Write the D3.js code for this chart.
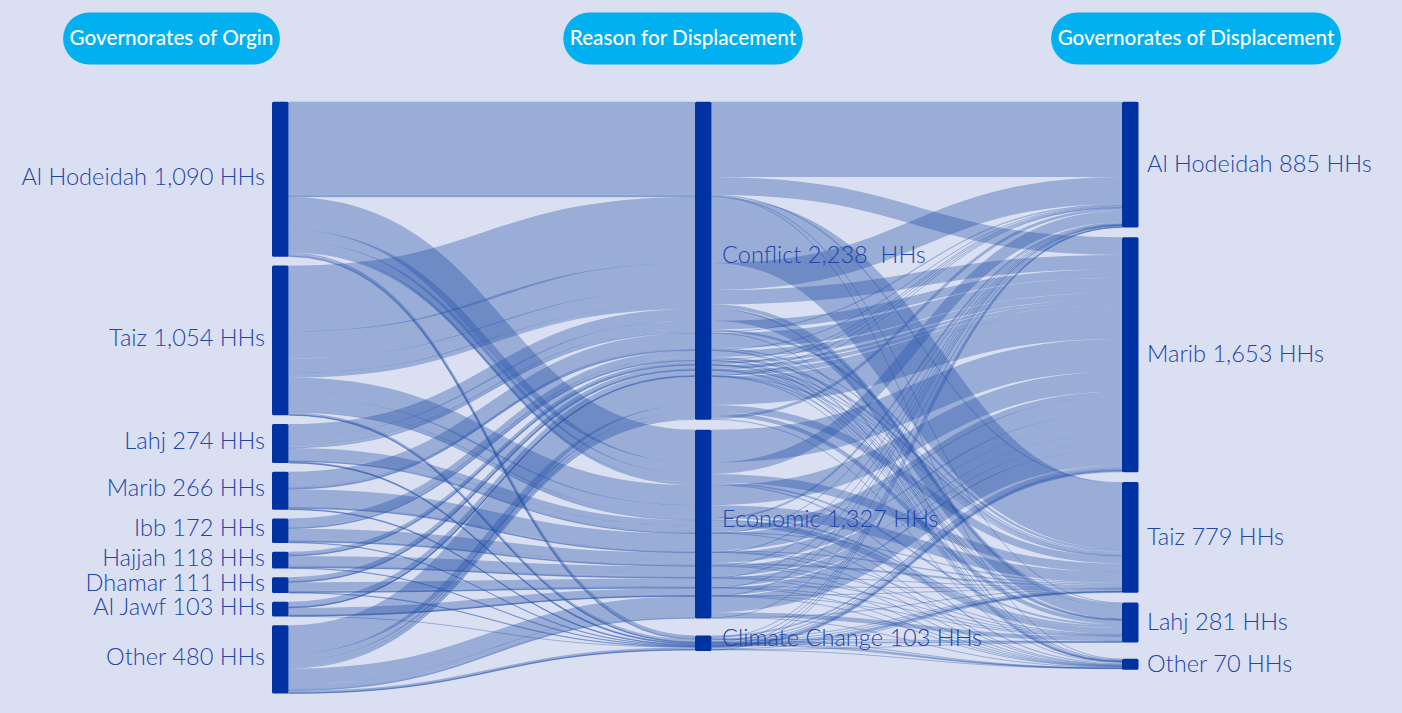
<!DOCTYPE html>
<html><head><meta charset="utf-8">
<script src="https://cdn.jsdelivr.net/npm/d3@7"></script>
<style>
html,body{margin:0;padding:0;background:#dae0f1;}
svg{display:block;}
</style></head><body>
<svg id="chart" width="1402" height="713"></svg>
<script>
// ---------------- DATA ----------------
const origins = ["Al Hodeidah","Taiz","Lahj","Marib","Ibb","Hajjah","Dhamar","Al Jawf","Other"];
const reasons = ["Conflict","Economic","Climate Change"];
const destinations = ["Al Hodeidah","Marib","Taiz","Lahj","Other"];
const headers = ["Governorates of Orgin","Reason for Displacement","Governorates of Displacement"];
const unitLabel = "HHs";
// households per origin (rows) -> destination (columns), one table per reason
const conflictFlows = [
  [530,125,8,4,3],
  [190,100,465,26,8],
  [8,60,15,82,4],
  [4,105,8,4,2],
  [6,45,16,3,2],
  [5,18,4,2,1],
  [3,25,5,2,2],
  [2,36,2,2,1],
  [20,200,50,28,7]
];
const economicFlows = [
  [80,230,60,12,8],
  [12,140,75,14,4],
  [2,40,8,42,3],
  [2,118,8,4,3],
  [3,72,14,4,2],
  [2,70,6,4,2],
  [1,58,5,4,2],
  [1,50,2,3,2],
  [4,111,3,31,6]
];
const climateFlows = [
  [6,12,6,3,3],
  [2,8,7,2,1],
  [0,4,2,3,1],
  [0,6,1,0,1],
  [0,3,2,0,0],
  [1,3,0,0,0],
  [0,3,1,0,0],
  [0,2,0,0,0],
  [1,9,6,2,2]
];
const reasonFlows = [conflictFlows, economicFlows, climateFlows];

// ---------------- LAYOUT ----------------
const svg = d3.select("#chart");
const W = 1402, H = 713;
const FONT = "Lato, 'Open Sans', sans-serif";
const TEXT_COLOR = "#2245a8";
const NODE_COLOR = "#0033a1";
const LINK_COLOR = "rgb(31,78,165)";
const PILL_COLOR = "#00b0f0";

svg.append("rect").attr("width", W).attr("height", H).attr("fill", "#dae0f1");

const paths = [];
reasonFlows.forEach((tbl, r) => tbl.forEach((row, o) => row.forEach((v, d) => {
  if (v > 0) paths.push({o, r, d, v});
})));

const originTotals = origins.map((_, o) => d3.sum(paths.filter(p => p.o === o), p => p.v));
const reasonTotals = reasons.map((_, r) => d3.sum(paths.filter(p => p.r === r), p => p.v));
const destTotals = destinations.map((_, d) => d3.sum(paths.filter(p => p.d === d), p => p.v));
const total = d3.sum(originTotals);

const yTop = 101.7, yBottom = 693.5, pad = 8.8;
const y = d3.scaleLinear().domain([0, total]).range([0, yBottom - yTop - (origins.length - 1) * pad]);
const colX = d3.scaleOrdinal().domain([0, 1, 2]).range([272, 695, 1122]);
const nodeW = 16.5;

function stack(col, names, totals, padding, lastExtra, minH) {
  let cur = yTop;
  return names.map((name, i) => {
    if (i === names.length - 1) cur += lastExtra;
    const h = Math.max(y(totals[i]), minH);
    const n = {col, name, value: totals[i], i, y0: cur, y1: cur + h};
    cur += h + padding;
    return n;
  });
}
const oNodes = stack(0, origins, originTotals, pad, 0, 10);
const rNodes = stack(1, reasons, reasonTotals, 10, 7, 15.5);
const dNodes = stack(2, destinations, destTotals, 9.8, 6.5, 11);

// positions of each path through nodes
const midOrder = (a, b) => (a.o - b.o) || (b.v - a.v) || (a.d - b.d);
reasons.forEach((_, r) => {
  let cur = rNodes[r].y0;
  paths.filter(p => p.r === r).sort(midOrder).forEach(p => { p.ym = cur + y(p.v) / 2; cur += y(p.v); });
});
origins.forEach((_, o) => {
  let cur = oNodes[o].y0;
  paths.filter(p => p.o === o).sort((a, b) => (a.r - b.r) || (b.v - a.v) || (a.d - b.d))
    .forEach(p => { p.yo = cur + y(p.v) / 2; cur += y(p.v); });
});
destinations.forEach((_, d) => {
  let cur = dNodes[d].y0;
  paths.filter(p => p.d === d).sort((a, b) => (a.r - b.r) || (a.o - b.o) || (b.v - a.v))
    .forEach(p => { p.yd = cur + y(p.v) / 2; cur += y(p.v); });
});

const link = d3.linkHorizontal();
const gLinks = svg.append("g").attr("fill", "none").attr("stroke", LINK_COLOR).attr("stroke-opacity", 0.35);
const ordered = paths.slice().sort((a, b) => b.v - a.v);
gLinks.selectAll("path.l").data(ordered).join("path")
  .attr("d", p => link({source: [colX(0) + nodeW, p.yo], target: [colX(1), p.ym]}))
  .attr("stroke-width", p => Math.max(1, y(p.v)));
gLinks.selectAll("path.r").data(ordered).join("path")
  .attr("d", p => link({source: [colX(1) + nodeW, p.ym], target: [colX(2), p.yd]}))
  .attr("stroke-width", p => Math.max(1, y(p.v)));

// nodes
const allNodes = [...oNodes, ...rNodes, ...dNodes];
svg.append("g").selectAll("rect").data(allNodes).join("rect")
  .attr("x", n => colX(n.col)).attr("y", n => n.y0)
  .attr("width", nodeW).attr("height", n => n.y1 - n.y0)
  .attr("rx", 1.5).attr("fill", NODE_COLOR);

// labels
const fmt = d3.format(",");
const labelCfg = [
  {anchor: "end", dx: -7, off: -3},
  {anchor: "start", dx: nodeW + 10.5, off: -6},
  {anchor: "start", dx: nodeW + 8.5, off: -1}
];
const sep = n => (n.col === 1 && n.i === 0) ? "  " : " ";
svg.append("g").selectAll("text").data(allNodes).join("text")
  .attr("x", n => colX(n.col) + labelCfg[n.col].dx)
  .attr("y", n => (n.y0 + n.y1) / 2 + labelCfg[n.col].off)
  .attr("dy", "0.36em")
  .attr("text-anchor", n => labelCfg[n.col].anchor)
  .attr("font-family", FONT).attr("font-weight", 300).attr("font-size", 23.6)
  .attr("fill", TEXT_COLOR)
  .style("white-space", "pre")
  .text(n => `${n.name} ${fmt(n.value)}${sep(n)}${unitLabel}`);

// header pills
const pillCenters = [171.5, 683, 1196];
const gp = svg.append("g");
headers.forEach((h, i) => {
  const g = gp.append("g");
  const t = g.append("text").attr("x", pillCenters[i]).attr("y", 45)
    .attr("text-anchor", "middle").attr("font-family", FONT).attr("font-weight", 500)
    .attr("font-size", 20.7).attr("fill", "#ffffff").text(h);
  const w = t.node().getComputedTextLength() + 13;
  g.insert("rect", "text").attr("x", pillCenters[i] - w / 2).attr("y", 12.5)
    .attr("width", w).attr("height", 52).attr("rx", 26).attr("fill", PILL_COLOR);
});
</script>
</body></html>
